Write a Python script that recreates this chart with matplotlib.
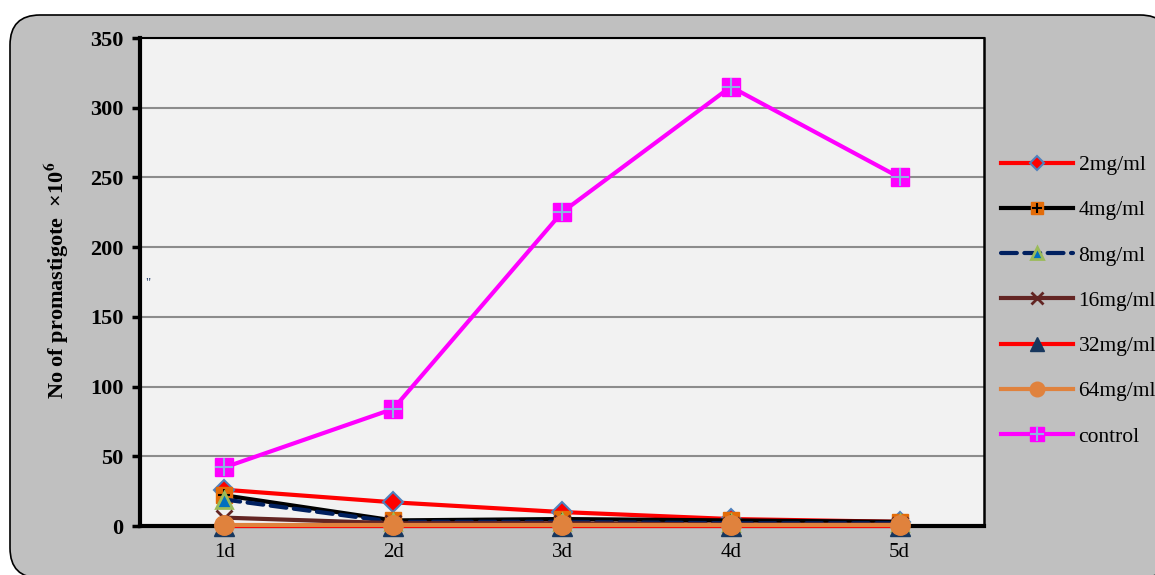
"""Promastigote counts vs. days for several drug concentrations"""
import matplotlib
matplotlib.use('Agg')
import matplotlib.pyplot as plt
from matplotlib.patches import FancyBboxPatch
from matplotlib.transforms import IdentityTransform

# ============== DATA ==============
days = ['1d', '2d', '3d', '4d', '5d']
mg2 = [26, 17, 10, 5, 3]
mg4 = [22, 4, 5, 4, 3]
mg8 = [19, 3, 3, 2, 2]
mg16 = [6, 2, 2, 1, 1]
mg32 = [0, 0, 0, 0, 0]
mg64 = [1, 1, 1, 1, 1]
control = [42, 84, 225, 315, 250]
# ==================================

plt.rcParams['font.family'] = ['Liberation Serif', 'DejaVu Serif']
plt.rcParams['mathtext.fontset'] = 'stix'

fig = plt.figure(figsize=(11.55, 5.75), dpi=100)
fig.patch.set_facecolor('white')

# rounded grey chart area
bg = FancyBboxPatch((10, -3), 1160, 563, boxstyle='round,pad=0,rounding_size=30',
                    transform=IdentityTransform(), facecolor='#c0c0c0',
                    edgecolor='black', lw=1.2, zorder=-10)
fig.patches.append(bg)

ax = fig.add_axes([140 / 1155, 1 - 526 / 575, 844 / 1155, 488 / 575])
ax.set_facecolor('#f2f2f2')
x = [i + 0.5 for i in range(len(days))]

lw = 3.0
kw = dict(lw=lw, clip_on=False, markersize=11)
h2, = ax.plot(x, mg2, color='#ff0000', marker='D', mfc='#ff0000', mec='#4f81bd',
              mew=1.5, markersize=10, lw=lw, clip_on=False, label='2mg/ml', zorder=3)
h4, = ax.plot(x, mg4, color='black', marker='s', mfc='#e36c09', mec='#e36c09',
              label='4mg/ml', zorder=4, **kw)
h4p, = ax.plot(x, mg4, ls='none', marker='+', color='black', markersize=9, mew=1.5,
               clip_on=False, zorder=4)
h8, = ax.plot(x, mg8, color='#002060', ls=(0, (3.8, 1.8)), dash_capstyle='round',
              marker='^', mfc='#0070c0', mec='#9bbb59', mew=2, label='8mg/ml',
              zorder=5, **kw)
h16, = ax.plot(x, mg16, color='#632523', marker='x', mew=2, label='16mg/ml',
               zorder=6, **kw)
h32, = ax.plot(x, mg32, color='#ff0000', marker='^', mfc='#17375e', mec='#17375e',
               markersize=14, lw=lw, clip_on=False, label='32mg/ml', zorder=7)
h64, = ax.plot(x, mg64, color='#e0823d', marker='o', mfc='#e0823d', mec='#e0823d',
               markersize=14, lw=lw, clip_on=False, label='64mg/ml', zorder=8)
hc, = ax.plot(x, control, color='#ff00ff', marker='s', mfc='#ff00ff', mec='#ff00ff',
              markersize=13, lw=lw, clip_on=False, label='control', zorder=9)
hcp, = ax.plot(x, control, ls='none', marker='+', color='#8db3e2', markersize=13,
               mew=1.5, clip_on=False, zorder=9)

ax.set_xlim(0, 5)
ax.set_ylim(0, 350)
ax.set_yticks(range(0, 351, 50))
ax.set_xticks(x)
ax.set_xticklabels(days, fontsize=15)
ax.tick_params(axis='x', length=0, pad=12)
ax.tick_params(axis='y', length=6, width=2.5, direction='out', pad=6)
for lab in ax.get_yticklabels():
    lab.set_fontsize(16)
    lab.set_fontweight('bold')

ax.yaxis.grid(True, color='#8c8c8c', lw=1.5)
ax.set_axisbelow(True)
ax.spines['left'].set_linewidth(3)
ax.spines['bottom'].set_linewidth(3)
ax.spines['top'].set_linewidth(1.5)
ax.spines['right'].set_linewidth(1.8)

fig.text(57 / 1155, 1 - 280 / 575, r'No of promastigote  ×10$^{\mathbf{6}}$', rotation=90,
         ha='center', va='center', fontsize=16, fontweight='bold')
fig.text(148 / 1155, 1 - 283 / 575, '"', color='#1f3864', fontsize=9,
         ha='center', va='center')

handles = [h2, (h4, h4p), h8, h16, h32, h64, (hc, hcp)]
labels = ['2mg/ml', '4mg/ml', '8mg/ml', '16mg/ml', '32mg/ml', '64mg/ml', 'control']
leg = fig.legend(handles, labels, loc='upper left',
                 bbox_to_anchor=(1001 / 1155, 1 - 155 / 575), frameon=False,
                 fontsize=15.5, handlelength=3.35, handletextpad=0.25,
                 labelspacing=1.17, borderpad=0, borderaxespad=0, markerscale=0.75)

fig.savefig('out.png', dpi=100, facecolor=fig.get_facecolor())
